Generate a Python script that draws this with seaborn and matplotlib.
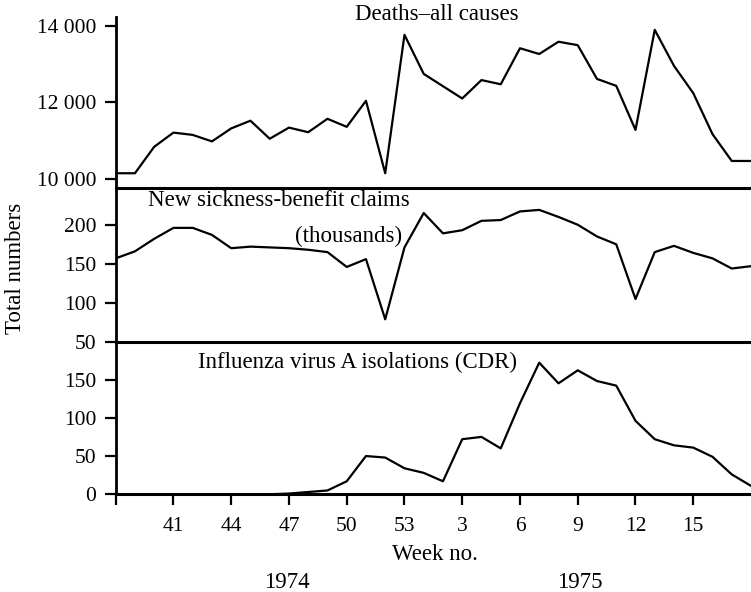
import matplotlib
matplotlib.use("Agg")
import matplotlib.pyplot as plt
import seaborn as sns
import pandas as pd

# week numbers: 1974 weeks 38-53, then 1975 weeks 1-18
weeks = list(range(38, 54)) + list(range(1, 19))

deaths = [10150, 10150, 10840, 11210, 11150, 10980, 11320, 11520, 11050, 11340,
          11220, 11570, 11360, 12040, 10150, 13760, 12740, 12420, 12100, 12580,
          12470, 13410, 13260, 13580, 13490, 12610, 12430, 11280, 13890, 12950,
          12240, 11170, 10470, 10470]

sickness = [157, 166, 182, 196, 196, 187, 170, 172, 171, 170,
            168, 165, 146, 156, 79, 171, 215, 189, 193, 205,
            206, 217, 219, 210, 200, 185, 175, 105, 165, 173,
            164, 157, 144, 147]

influenza = [0, 0, 0, 0, 0, 0, 0, 0, 0, 1,
             3, 5, 17, 50, 48, 34, 28, 17, 72, 75,
             60, 119, 172, 145, 162, 148, 142, 96, 72, 64,
             61, 49, 26, 11]

tick_weeks = [38, 41, 44, 47, 50, 53, 3, 6, 9, 12, 15]
tick_labels = ["", "41", "44", "47", "50", "53", "3", "6", "9", "12", "15"]

df = pd.DataFrame({
    "pos": range(len(weeks)),
    "week": weeks,
    "deaths": deaths,
    "sickness": sickness,
    "influenza": influenza,
})

sns.set_style("ticks", {"axes.edgecolor": "black", "xtick.color": "black",
                        "ytick.color": "black", "text.color": "black",
                        "axes.labelcolor": "black"})
plt.rcParams["font.family"] = ["Liberation Serif", "DejaVu Serif"]
plt.rcParams["font.size"] = 15

W, H = 751, 592
fig = plt.figure(figsize=(W / 100, H / 100), dpi=100)

def px(x, y):
    return x / W, 1 - y / H

left = 115.7 / W
width = 1 - left

def box(top, bottom):
    return [left, 1 - bottom / H, width, (bottom - top) / H]

ax1 = fig.add_axes(box(17, 188))
ax2 = fig.add_axes(box(188, 342))
ax3 = fig.add_axes(box(342, 494.3))

for ax, col in [(ax1, "deaths"), (ax2, "sickness"), (ax3, "influenza")]:
    sns.lineplot(data=df, x="pos", y=col, ax=ax, color="black", linewidth=1.6)
    ax.set_xlim(0, len(weeks) - 1)
    ax.set_xlabel("")
    ax.set_ylabel("")
    ax.spines["top"].set_visible(False)
    ax.spines["right"].set_visible(False)
    ax.spines["left"].set_linewidth(2)
    ax.spines["bottom"].set_linewidth(2.2)
    ax.tick_params(axis="y", direction="out", length=8, width=1.6,
                   labelsize=15.5, pad=6, colors="black")
    ax.patch.set_alpha(0)

tick_pos = [weeks.index(w) for w in tick_weeks]

ax1.set_ylim(9765, 14225)
ax1.set_yticks([10000, 12000, 14000])
ax1.set_yticklabels(["10 000", "12 000", "14 000"])
ax1.set_xticks([])

ax2.set_ylim(50, 247)
ax2.set_yticks([50, 100, 150, 200])
ax2.set_xticks([])

ax3.set_ylim(0, 199)
ax3.set_yticks([0, 50, 100, 150])
ax3.set_xticks(tick_pos)
ax3.set_xticklabels(tick_labels)
ax3.tick_params(axis="x", direction="out", length=8, width=1.6,
                labelsize=15.5, pad=8, colors="black")

fs = 16.5
fig.text(*px(437, 15), "Deaths\u2013all causes", ha="center", va="center", fontsize=fs)
fig.text(*px(148, 200), "New sickness-benefit claims", ha="left", va="center", fontsize=fs)
fig.text(*px(402, 236), "(thousands)", ha="right", va="center", fontsize=fs)
fig.text(*px(358, 362), "Influenza virus A isolations (CDR)", ha="center", va="center", fontsize=fs)
fig.text(*px(16, 268), "Total numbers", rotation=90, ha="center", va="center", fontsize=fs)
fig.text(*px(435, 555), "Week no.", ha="center", va="center", fontsize=fs)
fig.text(*px(287, 583), "1974", ha="center", va="center", fontsize=fs)
fig.text(*px(580, 583), "1975", ha="center", va="center", fontsize=fs)

fig.savefig("out.png", dpi=100)
